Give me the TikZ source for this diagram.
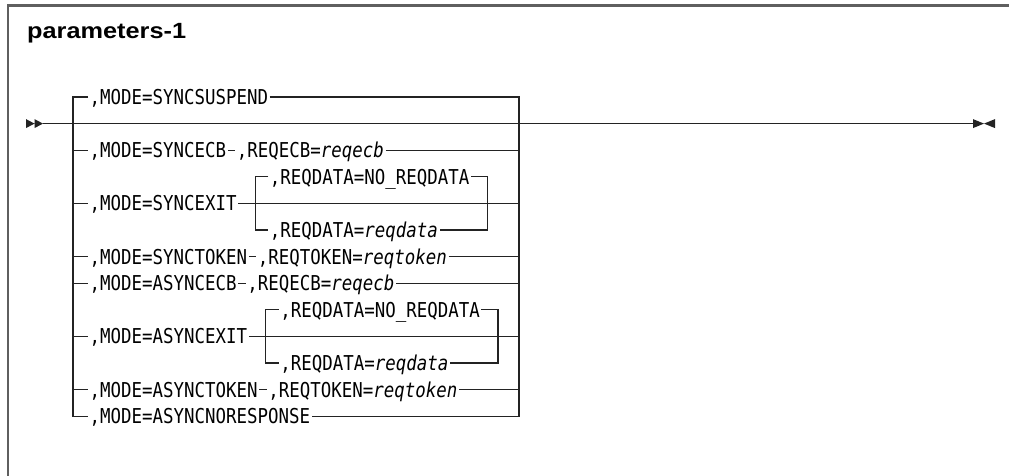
\documentclass[tikz,border=0pt]{standalone}
\usepackage{fontspec}
\usetikzlibrary{positioning}
\newfontfamily\synfont[FakeStretch=0.85]{DejaVu Sans Mono}
\newfontfamily\headfont[FakeStretch=1.15]{Liberation Sans}
\definecolor{synLine}{RGB}{35,35,35}
\definecolor{frameGray}{RGB}{95,95,95}

\begin{document}
\begin{tikzpicture}[
  x=1pt,y=-1pt,
  kw/.style={font=\synfont\fontsize{20.5}{22}\selectfont,anchor=west,inner xsep=1.5pt,inner ysep=0pt,text height=14.9pt,text depth=0pt},
  ln/.style={draw=synLine,line width=1.3pt},
  frame/.style={draw=frameGray,line cap=rect}
]
  \useasboundingbox (0,0) rectangle (1009,476);

  % frame and heading
  \draw[frame,line width=2.6pt] (8,5.5) -- (1009,5.5);
  \draw[frame,line width=1.4pt] (8,5.5) -- (8,476);
  \node[font=\headfont\bfseries\fontsize{22}{26}\selectfont,anchor=base west,inner sep=0pt] (title) at (27,39) {parameters-1};

  % rows and loop edges
  \foreach \i in {0,...,12} \coordinate (r\i) at (0,97+26.6*\i);
  \coordinate (lx) at (73,0);
  \coordinate (rx) at (519,0);

  % main line
  \coordinate (entry) at (26,123.6);
  \coordinate (finish) at (995,123.6);
  \fill[synLine] (entry) ++(0,-4.5) -- ++(8.5,4.5) -- ++(-8.5,4.5) -- cycle
                 (entry) ++(8.5,-4.5) -- ++(8.5,4.5) -- ++(-8.5,4.5) -- cycle;
  \fill[synLine] (finish) ++(-22,-4.5) -- ++(11,4.5) -- ++(-11,4.5) -- cycle
                 (finish) ++(0,-4.5) -- ++(-11,4.5) -- ++(11,4.5) -- cycle;
  \draw[ln] ([xshift=17pt]entry) -- ([xshift=-22pt]finish);

  % choices
  \node[kw] (suspend) at ([xshift=88pt]r0) {,MODE=SYNCSUSPEND};
  \node[kw] (syncecb) at ([xshift=88pt]r2) {,MODE=SYNCECB};
  \node[kw,right=7.5pt of syncecb] (syncecbp) {,REQECB=\textit{reqecb}};
  \node[kw] (syncexit) at ([xshift=88pt]r4) {,MODE=SYNCEXIT};
  \node[kw] (synctok) at ([xshift=88pt]r6) {,MODE=SYNCTOKEN};
  \node[kw,right=7.5pt of synctok] (synctokp) {,REQTOKEN=\textit{reqtoken}};
  \node[kw] (asyncecb) at ([xshift=88pt]r7) {,MODE=ASYNCECB};
  \node[kw,right=7.5pt of asyncecb] (asyncecbp) {,REQECB=\textit{reqecb}};
  \node[kw] (asyncexit) at ([xshift=88pt]r9) {,MODE=ASYNCEXIT};
  \node[kw] (asynctok) at ([xshift=88pt]r11) {,MODE=ASYNCTOKEN};
  \node[kw,right=7.5pt of asynctok] (asynctokp) {,REQTOKEN=\textit{reqtoken}};
  \node[kw] (noresp) at ([xshift=88pt]r12) {,MODE=ASYNCNORESPONSE};

  \draw[ln] (suspend.west) -- (suspend.west -| lx) -- (noresp.west -| lx) -- (noresp.west);
  \draw[ln] (suspend.east) -- (suspend.east -| rx) -- (noresp.east -| rx) -- (noresp.east);
  \foreach \n in {syncecb,syncexit,synctok,asyncecb,asyncexit,asynctok}
    \draw[ln] (\n.west -| lx) -- (\n.west);
  \foreach \n in {syncecb,synctok,asyncecb,asynctok}
    \draw[ln] (\n.east) -- (\n p.west);
  \foreach \n in {syncecbp,syncexit,synctokp,asyncecbp,asyncexit,asynctokp}
    \draw[ln] (\n.east) -- (\n.east -| rx);

  % REQDATA loop after SYNCEXIT
  \coordinate[right=17pt of syncexit] (sxl);
  \node[kw,xshift=13pt] (snodata) at (sxl |- r3) {,REQDATA=NO\_REQDATA};
  \node[kw,xshift=13pt] (sreqdata) at (sxl |- r5) {,REQDATA=\textit{reqdata}};
  \coordinate[right=16.5pt of snodata] (sxr);
  \draw[ln] (snodata.west) -- (snodata.west -| sxl) -- (sreqdata.west -| sxl) -- (sreqdata.west);
  \draw[ln] (snodata.east) -- (snodata.east -| sxr) -- (sreqdata.east -| sxr) -- (sreqdata.east);

  % REQDATA loop after ASYNCEXIT
  \coordinate[right=17pt of asyncexit] (axl);
  \node[kw,xshift=13pt] (anodata) at (axl |- r8) {,REQDATA=NO\_REQDATA};
  \node[kw,xshift=13pt] (areqdata) at (axl |- r10) {,REQDATA=\textit{reqdata}};
  \coordinate[right=16.5pt of anodata] (axr);
  \draw[ln] (anodata.west) -- (anodata.west -| axl) -- (areqdata.west -| axl) -- (areqdata.west);
  \draw[ln] (anodata.east) -- (anodata.east -| axr) -- (areqdata.east -| axr) -- (areqdata.east);
\end{tikzpicture}
\end{document}
